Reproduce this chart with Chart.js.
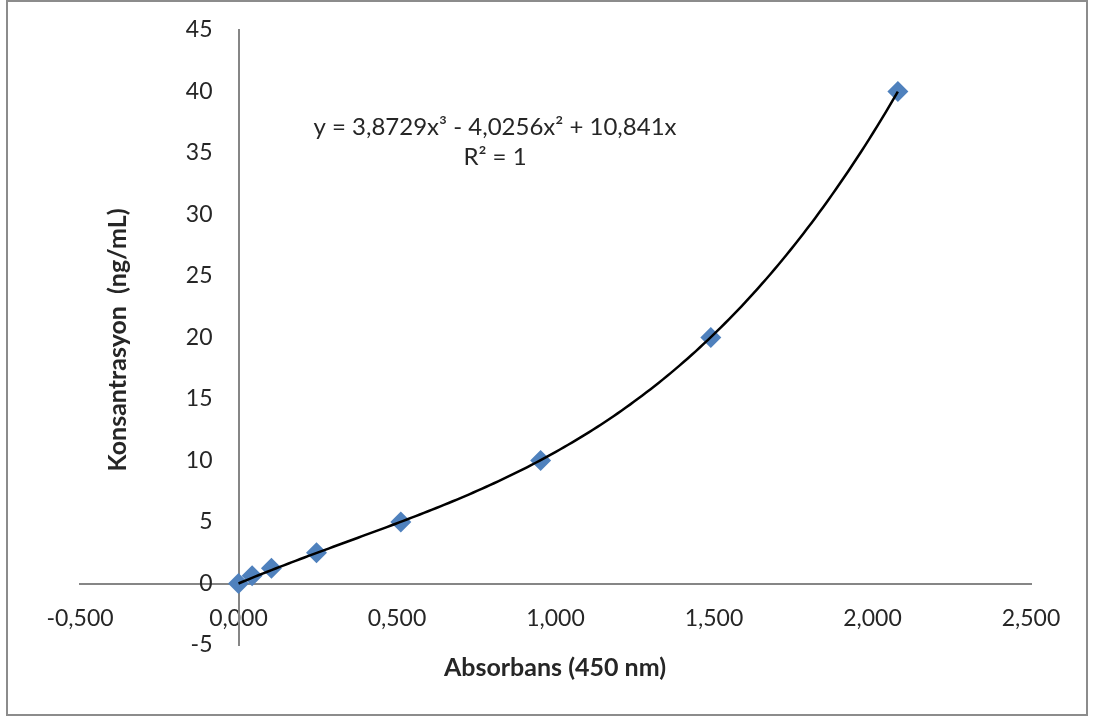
<!DOCTYPE html>
<html>
<head>
<meta charset="utf-8">
<script src="https://cdn.jsdelivr.net/npm/chart.js@4/dist/chart.umd.min.js"></script>
<style>
  html, body { margin: 0; padding: 0; background: #fff; }
  #wrap { position: relative; width: 1093px; height: 720px; }
  #frame { position: absolute; left: 6px; top: 0px; width: 1082px; height: 716px; border: 2px solid #8c8c8c; box-sizing: border-box; }
  canvas { position: absolute; left: 0; top: 0; }
</style>
</head>
<body>
<div id="wrap">
  <div id="frame"></div>
  <canvas id="c" width="1093" height="720"></canvas>
</div>
<script>
// Data
const absorbans = [0, 0.043, 0.104, 0.246, 0.512, 0.953, 1.49, 2.08];
const konsantrasyon = [0, 0.625, 1.25, 2.5, 5, 10, 20, 40];
// Trendline equation coefficients as printed on the chart: y = a3 x^3 + a2 x^2 + a1 x
const trendCoefficients = [3.8729, -4.0256, 10.841];
const equationLines = ["y = 3,8729x³ - 4,0256x² + 10,841x", "R² = 1"];
const xTitle = "Absorbans (450 nm)";
const yTitle = "Konsantrasyon  (ng/mL)";
const xRange = [-0.5, 2.5, 0.5];
const yRange = [-5, 45, 5];

const trendPts = [];
{
  const steps = 160;
  const xEnd = absorbans[absorbans.length - 1];
  for (let i = 0; i <= steps; i++) {
    const x = xEnd * i / steps;
    const y = trendCoefficients[0] * x * x * x + trendCoefficients[1] * x * x + trendCoefficients[2] * x;
    trendPts.push({ x, y });
  }
}

const FONT = "Lato, 'Open Sans', sans-serif";
const textColor = '#262626';
const TICK_SIZE = 23;

const overlay = {
  id: 'overlay',
  afterDraw(chart) {
    const ctx = chart.ctx;
    const xs = chart.scales.x, ys = chart.scales.y;
    ctx.save();
    ctx.fillStyle = textColor;
    // y tick labels, placed left of the y axis (which crosses at x = 0)
    ctx.font = TICK_SIZE + "px " + FONT;
    ctx.textAlign = 'right';
    ctx.textBaseline = 'middle';
    const axisX = xs.getPixelForValue(0);
    ys.ticks.forEach(t => {
      ctx.fillText(String(t.value), axisX - 26, ys.getPixelForValue(t.value));
    });
    // equation
    ctx.textAlign = 'center';
    ctx.font = "24px " + FONT;
    ctx.fillText(equationLines[0], 495, 127);
    ctx.fillText(equationLines[1], 495, 157);
    // x title
    ctx.font = "bold 25px " + FONT;
    ctx.fillText(xTitle, 555, 668);
    // y title
    ctx.translate(118, 340);
    ctx.rotate(-Math.PI / 2);
    ctx.fillText(yTitle, 0, 0);
    ctx.restore();
  }
};

new Chart(document.getElementById('c'), {
  type: 'scatter',
  data: {
    datasets: [
      {
        type: 'line',
        label: 'trend',
        data: trendPts,
        borderColor: '#000000',
        borderWidth: 2.5,
        pointRadius: 0,
        fill: false,
        tension: 0,
        order: 0
      },
      {
        label: 'data',
        data: absorbans.map((x, i) => ({ x, y: konsantrasyon[i] })),
        pointStyle: 'rectRot',
        pointRadius: 10.5,
        backgroundColor: '#4f81bd',
        borderColor: '#4f81bd',
        borderWidth: 0,
        order: 1
      }
    ]
  },
  options: {
    responsive: false,
    animation: false,
    devicePixelRatio: 1,
    layout: { padding: { left: 80, right: 62, top: 30, bottom: 75 } },
    plugins: { legend: { display: false }, tooltip: { enabled: false } },
    scales: {
      x: {
        type: 'linear',
        position: { y: 0 },
        min: xRange[0], max: xRange[1],
        ticks: {
          stepSize: xRange[2],
          color: textColor,
          font: { family: FONT, size: TICK_SIZE },
          padding: 21,
          maxRotation: 0,
          callback: v => v.toFixed(3).replace('.', ',')
        },
        grid: { display: false, drawTicks: false },
        border: { display: true, color: '#868686', width: 2 }
      },
      y: {
        type: 'linear',
        position: { x: 0 },
        min: yRange[0], max: yRange[1],
        ticks: {
          display: false,
          stepSize: yRange[2]
        },
        grid: { display: false, drawTicks: false },
        border: { display: true, color: '#868686', width: 2 }
      }
    }
  },
  plugins: [overlay]
});
</script>
</body>
</html>
